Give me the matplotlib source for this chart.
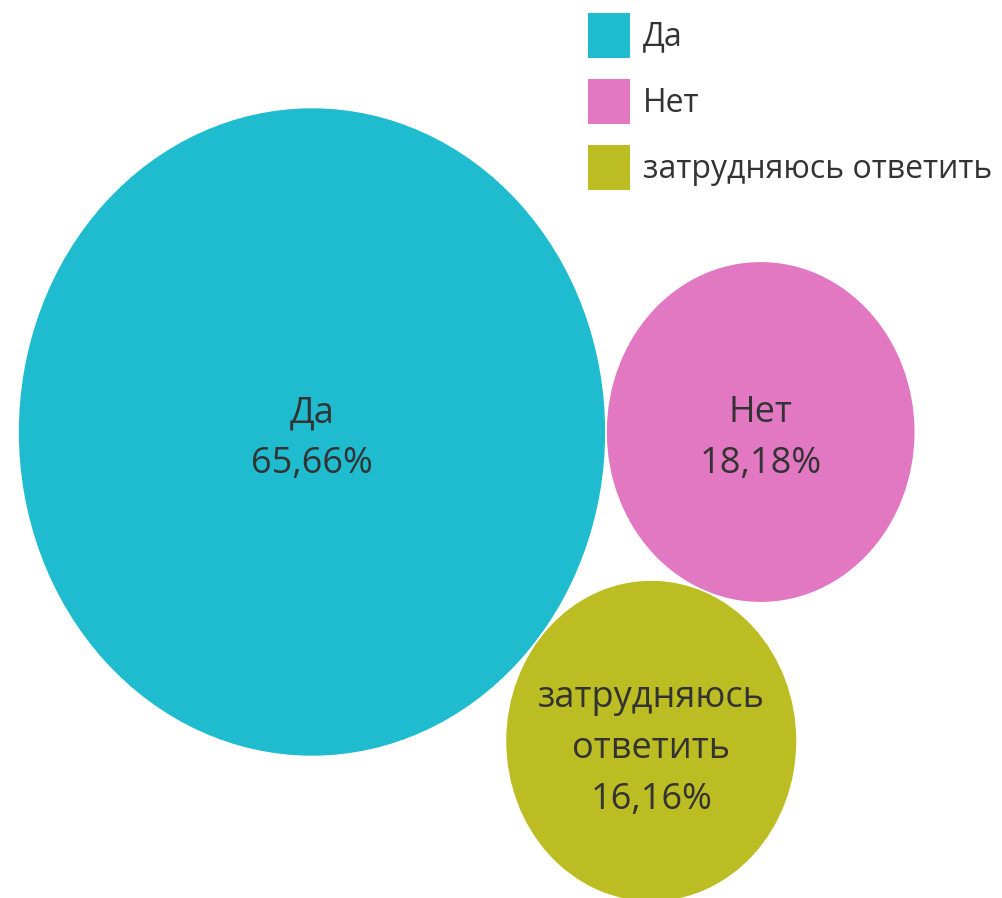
import numpy as np
import matplotlib
matplotlib.use("Agg")
import matplotlib.pyplot as plt
from matplotlib.patches import Ellipse, Patch

categories = ["Да", "Нет", "затрудняюсь ответить"]
label_texts = ["Да", "Нет", "затрудняюсь\nответить"]
values = [65.66, 18.18, 16.16]
value_labels = ["65,66%", "18,18%", "16,16%"]
colors = ["#1fbbcf", "#e378c2", "#bcbd22"]

plt.rcParams['font.family'] = ['Open Sans', 'DejaVu Sans']

fig = plt.figure(figsize=(10.03, 8.98), dpi=100)
ax = fig.add_axes([0, 0, 1, 1])

# radii proportional to sqrt of value
r = np.sqrt(np.array(values))
# packing: first bubble at origin, second tangent on right, third tangent to both below
c0 = np.array([0.0, 0.0])
c1 = np.array([r[0] + r[1], 0.0])
d0 = r[0] + r[2]
d1 = r[1] + r[2]
D = c1[0]
x2 = (d0**2 - d1**2 + D**2) / (2 * D)
y2 = -np.sqrt(d0**2 - x2**2)
centers = [c0, c1, np.array([x2, y2])]

# stretched y-scale to mimic reference ellipses
xscale = 36.28  # px per unit
yscale = 40.05
W, H = 1003, 898
cx_px, cy_px = 312, 432
ax.set_xlim(-cx_px / xscale, (W - cx_px) / xscale)
ax.set_ylim(-(H - cy_px) / yscale, cy_px / yscale)
ax.set_aspect('auto')
ax.axis('off')

for i, (c, rad) in enumerate(zip(centers, r)):
    e = Ellipse(c, 2 * rad, 2 * rad, facecolor=colors[i], edgecolor='white',
                linewidth=1.2, zorder=2 + i)
    ax.add_patch(e)
    off = 0.17 if i < 2 else 0.2
    ax.text(c[0], c[1] - off, f"{label_texts[i]}\n{value_labels[i]}",
            ha='center', va='center', fontsize=26, color='#333333',
            linespacing=1.55, zorder=10)

handles = [Patch(facecolor=col, edgecolor='none') for col in colors]
leg = ax.legend(handles, categories, loc='upper left',
                bbox_to_anchor=(578 / W, 1 - 3 / H), bbox_transform=fig.transFigure,
                frameon=False, fontsize=23, handlelength=1.32, handleheight=1.8,
                handletextpad=0.4, labelspacing=0.66, borderaxespad=0, borderpad=0.3)
for t in leg.get_texts():
    t.set_color('#333333')

fig.savefig("out.png", dpi=100)
